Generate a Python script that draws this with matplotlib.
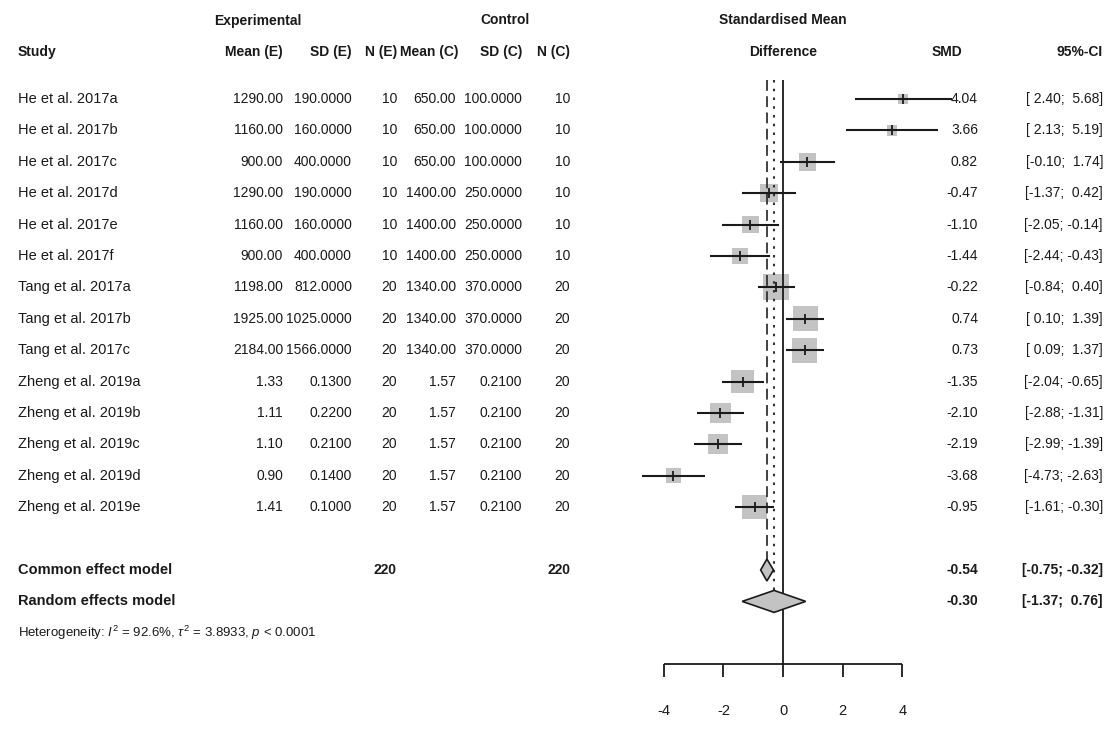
import matplotlib
matplotlib.use("Agg")
import matplotlib.pyplot as plt
import matplotlib.transforms as mtransforms
import numpy as np

plt.rcParams['font.family'] = ['Liberation Sans', 'DejaVu Sans']
plt.rcParams['mathtext.fontset'] = 'custom'
plt.rcParams['mathtext.rm'] = 'Liberation Sans'
plt.rcParams['mathtext.it'] = 'Liberation Sans:italic'

studies = ["He et al. 2017a", "He et al. 2017b", "He et al. 2017c", "He et al. 2017d",
           "He et al. 2017e", "He et al. 2017f", "Tang et al. 2017a", "Tang et al. 2017b",
           "Tang et al. 2017c", "Zheng et al. 2019a", "Zheng et al. 2019b",
           "Zheng et al. 2019c", "Zheng et al. 2019d", "Zheng et al. 2019e"]
mean_e = [1290, 1160, 900, 1290, 1160, 900, 1198, 1925, 2184, 1.33, 1.11, 1.10, 0.90, 1.41]
sd_e = [190, 160, 400, 190, 160, 400, 812, 1025, 1566, 0.13, 0.22, 0.21, 0.14, 0.10]
n_e = [10, 10, 10, 10, 10, 10, 20, 20, 20, 20, 20, 20, 20, 20]
mean_c = [650, 650, 650, 1400, 1400, 1400, 1340, 1340, 1340, 1.57, 1.57, 1.57, 1.57, 1.57]
sd_c = [100, 100, 100, 250, 250, 250, 370, 370, 370, 0.21, 0.21, 0.21, 0.21, 0.21]
n_c = [10, 10, 10, 10, 10, 10, 20, 20, 20, 20, 20, 20, 20, 20]
smd = [4.04, 3.66, 0.82, -0.47, -1.10, -1.44, -0.22, 0.74, 0.73, -1.35, -2.10, -2.19, -3.68, -0.95]
ci_lo = [2.40, 2.13, -0.10, -1.37, -2.05, -2.44, -0.84, 0.10, 0.09, -2.04, -2.88, -2.99, -4.73, -1.61]
ci_hi = [5.68, 5.19, 1.74, 0.42, -0.14, -0.43, 0.40, 1.39, 1.37, -0.65, -1.31, -1.39, -2.63, -0.30]

common = [-0.54, -0.75, -0.32]
random_eff = [-0.30, -1.37, 0.76]
total_n = [220, 220]
xticks = [-4, -2, 0, 2, 4]

# layout in pixels
W, H = 1115, 740
zero_px, unit_px = 783, 29.8
row0_px, row_px = 99, 31.4

fig = plt.figure(figsize=(W / 100, H / 100), dpi=100)
ax = fig.add_axes([0, 0, 1, 1])
ax.set_xlim(-zero_px / unit_px, (W - zero_px) / unit_px)
ax.set_ylim((H - row0_px) / row_px, -row0_px / row_px)
ax.axis("off")

tr = mtransforms.blended_transform_factory(fig.transFigure, ax.transData)
fs = 10
ink = "#1a1a1a"
gray = "#c3c3c3"


def txt(xpx, row, s, ha="right", bold=False, size=fs):
    ax.text(xpx / W, row, s, transform=tr, ha=ha, va="center", fontsize=size,
            fontweight="bold" if bold else "normal", color=ink)


# headers
txt(258, -2.5, "Experimental", ha="center", bold=True)
txt(505, -2.5, "Control", ha="center", bold=True)
txt(783, -2.5, "Standardised Mean", ha="center", bold=True)
txt(18, -1.5, "Study", ha="left", bold=True)
txt(283, -1.5, "Mean (E)", bold=True)
txt(352, -1.5, "SD (E)", bold=True)
txt(397, -1.5, "N (E)", bold=True)
txt(458, -1.5, "Mean (C)", bold=True)
txt(522, -1.5, "SD (C)", bold=True)
txt(570, -1.5, "N (C)", bold=True)
txt(783, -1.5, "Difference", ha="center", bold=True)
txt(962, -1.5, "SMD", bold=True)
txt(1103, -1.5, "95%-CI", bold=True)

rows = np.arange(len(studies))
for i in rows:
    txt(18, i, studies[i], ha="left", size=10.5)
    txt(283, i, f"{mean_e[i]:.2f}")
    txt(352, i, f"{sd_e[i]:.4f}")
    txt(397, i, f"{n_e[i]}")
    txt(456, i, f"{mean_c[i]:.2f}")
    txt(522, i, f"{sd_c[i]:.4f}")
    txt(570, i, f"{n_c[i]}")
    txt(978, i, f"{smd[i]:.2f}")
    txt(1103, i, f"[{ci_lo[i]:5.2f}; {ci_hi[i]:5.2f}]")

# square size from inverse variance weights
se = (np.array(ci_hi) - np.array(ci_lo)) / 3.92
w = 1 / se ** 2
side_px = 8.2 * np.sqrt(w)
ax.scatter(smd, rows, marker="s", s=(side_px * 0.72) ** 2, color=gray, lw=0, zorder=2)
ax.hlines(rows, ci_lo, ci_hi, color=ink, lw=1.5, zorder=3)
ax.scatter(smd, rows, marker="|", s=60, color=ink, lw=1.3, zorder=4)

r_common, r_random, r_het, r_axis = 15, 16, 17, 18.0

# reference lines
ax.vlines(0, -0.6, r_axis, color=ink, lw=1.3)
ax.vlines(common[0], -0.6, r_common - 0.35, color="#333333", lw=1.3,
          linestyles=(0, (6, 3)))
ax.vlines(random_eff[0], -0.6, r_random - 0.35, color="#333333", lw=1.5,
          linestyles=(0, (1.2, 3)))

# summary diamonds
for est, r in [(common, r_common), (random_eff, r_random)]:
    ax.fill([est[1], est[0], est[2], est[0]], [r, r - 0.35, r, r + 0.35],
            facecolor=gray, edgecolor=ink, lw=1.2, zorder=3)

txt(18, r_common, "Common effect model", ha="left", bold=True, size=10.5)
txt(397, r_common, f"{total_n[0]}", bold=True)
txt(570, r_common, f"{total_n[1]}", bold=True)
txt(978, r_common, f"{common[0]:.2f}", bold=True)
txt(1103, r_common, f"[{common[1]:5.2f}; {common[2]:5.2f}]", bold=True)
txt(18, r_random, "Random effects model", ha="left", bold=True, size=10.5)
txt(978, r_random, f"{random_eff[0]:.2f}", bold=True)
txt(1103, r_random, f"[{random_eff[1]:5.2f}; {random_eff[2]:5.2f}]", bold=True)
txt(18, r_het, r"Heterogeneity: $I^2$ = 92.6%, $\tau^2$ = 3.8933, $p$ < 0.0001",
    ha="left", size=9.5)

# x axis
ax.hlines(r_axis, xticks[0], xticks[-1], color=ink, lw=1.3)
ax.vlines(xticks, r_axis, r_axis + 0.4, color=ink, lw=1.3)
for t in xticks:
    ax.text(t, r_axis + 1.5, f"{t}", ha="center", va="center", fontsize=10.5,
            color=ink)

fig.savefig("out.png", dpi=100)
